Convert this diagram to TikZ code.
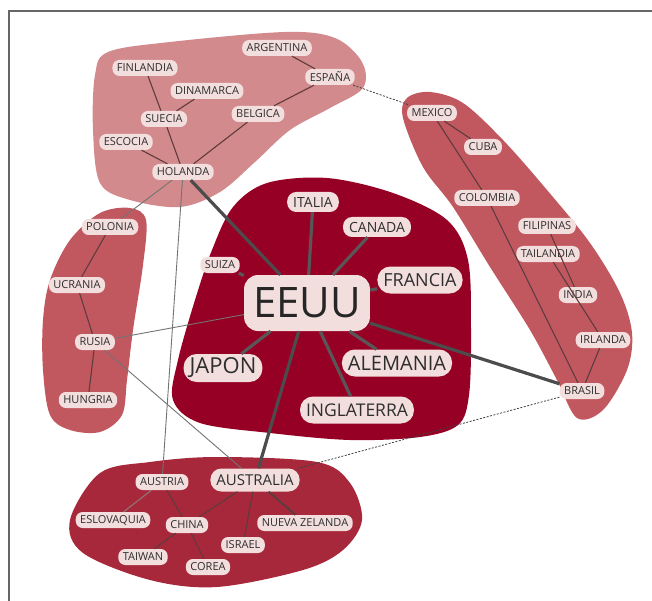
\documentclass[tikz,border=0pt]{standalone}
\usepackage{fontspec}
\setmainfont{Open Sans}
\usepackage{tikz}

\definecolor{fondoNorte}{HTML}{D38A8C}
\definecolor{fondoLado}{HTML}{C2585F}
\definecolor{fondoSur}{HTML}{A8283B}
\definecolor{fondoCentro}{HTML}{970025}
\definecolor{nodo}{HTML}{F2DEDD}
\definecolor{texto}{HTML}{2E2E2E}
\definecolor{linea}{HTML}{5E3B3C}
\definecolor{rayo}{HTML}{5A5657}

\begin{document}
\begin{tikzpicture}[x=1pt, y=-1pt,
		pais/.style={fill=nodo, text=texto, rounded corners=7pt, inner xsep=4.5pt, inner ysep=0pt, minimum height=16pt, font=\fontsize{11}{12}\selectfont},
		medio/.style={pais, rounded corners=9pt, minimum height=20pt, inner xsep=6pt, font=\fontsize{14}{15}\selectfont},
		grande/.style={pais, rounded corners=13pt, minimum height=27pt, inner xsep=6pt, font=\fontsize{19}{20}\selectfont},
		fina/.style={draw=linea, line width=1.1pt},
		gruesa/.style={draw=rayo, line width=3.2pt},
		larga/.style={draw=black!55, line width=0.9pt},
		punteada/.style={draw=black!75, line width=0.8pt, dash pattern=on 2pt off 1.5pt}]
	\useasboundingbox (0,0) rectangle (652,601);
	\draw[line width=1.2pt, color=black!60] (9,601) -- (9,11) -- (652,11);
	\fill[fondoNorte] plot[smooth cycle, tension=0.55] coordinates {(95,75) (108,52) (170,42) (285,32) (335,38) (362,62) (363,88) (330,108) (290,130) (255,162) (220,192) (180,207) (130,200) (100,183) (93,130)};
	\fill[fondoLado] plot[smooth cycle, tension=0.55] coordinates {(407,98) (430,92) (463,103) (503,140) (547,190) (590,243) (620,293) (632,333) (627,370) (603,410) (577,418) (557,380) (530,330) (490,267) (453,207) (423,167) (403,118)};
	\fill[fondoLado] plot[smooth cycle, tension=0.55] coordinates {(50,280) (70,240) (100,213) (130,208) (146,220) (143,265) (133,330) (127,380) (122,415) (100,432) (70,430) (50,415) (43,370) (43,320)};
	\fill[fondoSur] plot[smooth cycle, tension=0.55] coordinates {(70,520) (100,473) (150,462) (217,457) (317,462) (350,483) (362,520) (343,550) (303,570) (217,587) (150,580) (83,553)};
	\fill[fondoCentro] plot[smooth cycle, tension=0.55] coordinates {(233,207) (267,183) (327,178) (393,193) (447,220) (468,260) (471,330) (469,395) (458,425) (420,437) (350,440) (270,433) (200,423) (173,400) (178,360) (195,300) (212,250)};

	\node[pais] (argentina) at (277,48) {ARGENTINA};
	\node[pais] (espana) at (330,77) {ESPAÑA};
	\node[pais] (finlandia) at (145,68) {FINLANDIA};
	\node[pais] (dinamarca) at (207,91) {DINAMARCA};
	\node[pais] (suecia) at (164,119) {SUECIA};
	\node[pais] (belgica) at (258,114) {BELGICA};
	\node[pais] (escocia) at (126,142) {ESCOCIA};
	\node[pais] (holanda) at (183,172) {HOLANDA};

	\node[pais] (mexico) at (432,113) {MEXICO};
	\node[pais] (cuba) at (483,147) {CUBA};
	\node[pais] (colombia) at (487,198) {COLOMBIA};
	\node[pais] (filipinas) at (547,226) {FILIPINAS};
	\node[pais] (tailandia) at (548,254) {TAILANDIA};
	\node[pais] (india) at (578,295) {INDIA};
	\node[pais] (irlanda) at (603,340) {IRLANDA};
	\node[pais] (brasil) at (582,391) {BRASIL};

	\node[pais] (polonia) at (110,227) {POLONIA};
	\node[pais] (ucrania) at (77,285) {UCRANIA};
	\node[pais] (rusia) at (95,342) {RUSIA};
	\node[pais] (hungria) at (88,400) {HUNGRIA};

	\node[pais, rounded corners=14pt, minimum height=56pt, inner xsep=9pt, text=black!85, font=\fontsize{42}{44}\selectfont] (eeuu) at (307,303) {EEUU};
	\node[medio] (italia) at (313,202) {ITALIA};
	\node[medio] (canada) at (377,227) {CANADA};
	\node[pais] (suiza) at (220,265) {SUIZA};
	\node[grande, font=\fontsize{18}{19}\selectfont] (francia) at (420,280) {FRANCIA};
	\node[grande, font=\fontsize{22}{23}\selectfont, minimum height=28pt] (japon) at (223,368) {JAPON};
	\node[grande, font=\fontsize{20}{21}\selectfont] (alemania) at (397,363) {ALEMANIA};
	\node[grande, font=\fontsize{17.5}{19}\selectfont] (inglaterra) at (357,410) {INGLATERRA};

	\node[medio, font=\fontsize{15}{16}\selectfont, minimum height=23pt, rounded corners=11pt] (australia) at (255,480) {AUSTRALIA};
	\node[pais] (austria) at (162,482) {AUSTRIA};
	\node[pais] (eslovaquia) at (113,520) {ESLOVAQUIA};
	\node[pais] (china) at (187,525) {CHINA};
	\node[pais] (nuevazelanda) at (305,523) {NUEVA ZELANDA};
	\node[pais] (israel) at (243,545) {ISRAEL};
	\node[pais] (taiwan) at (143,557) {TAIWAN};
	\node[pais] (corea) at (208,567) {COREA};

	\draw[fina] (argentina) -- (espana);
	\draw[fina] (espana) -- (belgica);
	\draw[fina] (belgica) -- (holanda);
	\draw[fina] (dinamarca) -- (suecia);
	\draw[fina] (finlandia) -- (suecia);
	\draw[fina] (suecia) -- (holanda);
	\draw[fina] (escocia) -- (holanda);

	\draw[fina] (mexico) -- (cuba);
	\draw[fina] (mexico) -- (colombia);
	\draw[fina] (colombia) -- (brasil);
	\draw[fina] (filipinas) -- (india);
	\draw[fina] (tailandia) -- (irlanda);
	\draw[fina] (irlanda) -- (brasil);

	\draw[fina] (polonia) -- (ucrania);
	\draw[fina] (ucrania) -- (rusia);
	\draw[fina] (rusia) -- (hungria);

	\draw[fina, draw=linea!70] (austria) -- (eslovaquia);
	\draw[fina] (austria) -- (china);
	\draw[fina] (china) -- (corea);
	\draw[fina] (china) -- (taiwan);
	\draw[fina] (australia) -- (china);
	\draw[fina] (australia) -- (israel);
	\draw[fina, line width=2pt] (australia) -- (nuevazelanda);

	\foreach \p in {italia, canada, suiza, francia, japon, alemania, inglaterra}
		\draw[gruesa] (eeuu) -- (\p);
	\draw[gruesa, draw=black!70] (holanda) -- (eeuu);
	\draw[gruesa, draw=black!70] (eeuu) -- (brasil);
	\draw[gruesa, draw=black!70] (eeuu) -- (australia);

	\draw[larga] (holanda) -- (polonia);
	\draw[larga] (holanda) -- (austria);
	\draw[larga] (rusia) -- (eeuu);
	\draw[larga] (rusia) -- (australia);
	\draw[punteada] (espana) -- (mexico);
	\draw[punteada] (brasil) -- (australia);
\end{tikzpicture}
\end{document}
